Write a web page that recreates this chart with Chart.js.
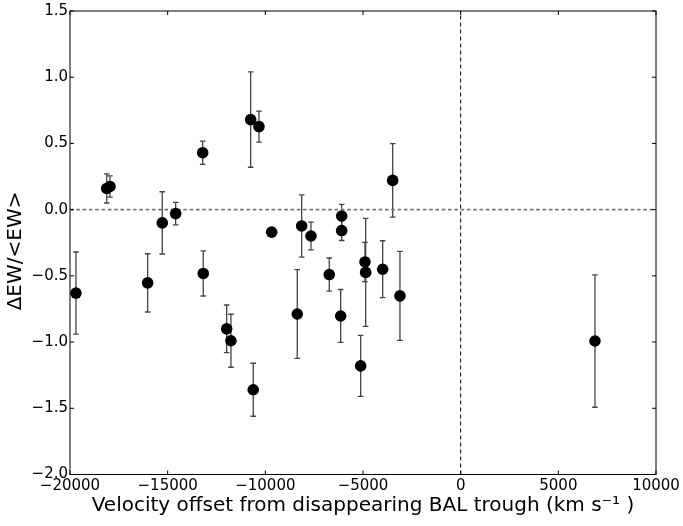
<!DOCTYPE html>
<html>
<head>
<meta charset="utf-8">
<script src="https://cdn.jsdelivr.net/npm/chart.js@4"></script>
<style>
  html, body { margin: 0; padding: 0; background: #fff; }
  canvas { display: block; }
</style>
</head>
<body>
<canvas id="ewChart" width="683" height="526"></canvas>
<script>
// Velocity offsets (km/s), fractional EW change and its 1-sigma error
const velocity = [-19695, -18120, -17955, -16025, -15277, -14591, -13208, -13178,
                  -11980, -11760, -10751, -10618, -10326, -9676, -8365, -8140,
                  -7664, -6727, -6143, -6092, -6092, -5120, -4899, -4864,
                  -3993, -3481, -3108, 6876];
const dEW = [-0.63, 0.16, 0.175, -0.553, -0.10, -0.03, 0.43, -0.482,
             -0.90, -0.99, 0.68, -1.36, 0.627, -0.17, -0.788, -0.123,
             -0.199, -0.49, -0.803, -0.048, -0.158, -1.18, -0.395, -0.474,
             -0.45, 0.221, -0.651, -0.992];
const dEWerr = [0.31, 0.11, 0.08, 0.22, 0.235, 0.085, 0.088, 0.17,
                0.18, 0.20, 0.36, 0.20, 0.117, 0.02, 0.335, 0.235,
                0.105, 0.125, 0.20, 0.088, 0.075, 0.23, 0.148, 0.408,
                0.215, 0.278, 0.336, 0.50];

const xTickValues = [-20000, -15000, -10000, -5000, 0, 5000, 10000];
const yTickValues = [-2.0, -1.5, -1.0, -0.5, 0.0, 0.5, 1.0, 1.5];

const minus = s => String(s).replace('-', '\u2212');

Chart.defaults.font.family = "'DejaVu Sans', sans-serif";
Chart.defaults.color = '#000';

// vertical error bars with caps, drawn under the markers
const errorBarPlugin = {
    id: 'errorBars',
    beforeDatasetsDraw(chart) {
        const { ctx, scales: { x, y } } = chart;
        ctx.save();
        ctx.strokeStyle = '#444';
        ctx.lineWidth = 1.3;
        velocity.forEach((v, i) => {
            const px = x.getPixelForValue(v);
            const top = y.getPixelForValue(dEW[i] + dEWerr[i]);
            const bot = y.getPixelForValue(dEW[i] - dEWerr[i]);
            ctx.beginPath();
            ctx.moveTo(px, top); ctx.lineTo(px, bot);
            ctx.moveTo(px - 2.8, top); ctx.lineTo(px + 2.8, top);
            ctx.moveTo(px - 2.8, bot); ctx.lineTo(px + 2.8, bot);
            ctx.stroke();
        });
        ctx.restore();
    }
};

// box frame + inward ticks on all four sides (matplotlib classic look)
const framePlugin = {
    id: 'frame',
    afterDraw(chart) {
        const { ctx, chartArea: a, scales: { x, y } } = chart;
        const len = 4;
        ctx.save();
        ctx.strokeStyle = '#000';
        ctx.lineWidth = 1;
        ctx.strokeRect(a.left, a.top, a.right - a.left, a.bottom - a.top);
        ctx.beginPath();
        x.ticks.forEach(t => {
            const px = x.getPixelForValue(t.value);
            ctx.moveTo(px, a.bottom); ctx.lineTo(px, a.bottom - len);
            ctx.moveTo(px, a.top); ctx.lineTo(px, a.top + len);
        });
        y.ticks.forEach(t => {
            const py = y.getPixelForValue(t.value);
            ctx.moveTo(a.left, py); ctx.lineTo(a.left + len, py);
            ctx.moveTo(a.right, py); ctx.lineTo(a.right - len, py);
        });
        ctx.stroke();
        ctx.restore();
    }
};

const data = {
    datasets: [
        { // measurements
            label: 'dEW',
            data: velocity.map((v, i) => ({ x: v, y: dEW[i] })),
            backgroundColor: '#000',
            borderWidth: 0,
            pointRadius: 5.8,
            order: 0
        },
        { // zero change
            label: 'zero',
            type: 'line',
            data: [{ x: -20000, y: 0 }, { x: 10000, y: 0 }],
            borderColor: '#777',
            borderWidth: 1.6,
            borderDash: [3.6, 2.7],
            pointRadius: 0,
            order: 2
        },
        { // trough position
            label: 'trough',
            type: 'line',
            data: [{ x: 0, y: -2 }, { x: 0, y: 1.5 }],
            borderColor: '#000',
            borderWidth: 1,
            borderDash: [4, 3],
            pointRadius: 0,
            order: 2
        }
    ]
};

const config = {
    type: 'scatter',
    data,
    options: {
        responsive: false,
        animation: false,
        layout: { padding: { top: 10, right: 27, bottom: 0, left: 0 } },
        plugins: {
            legend: { display: false },
            tooltip: { enabled: false }
        },
        scales: {
            x: {
                type: 'linear',
                min: -20000,
                max: 10000,
                afterBuildTicks: axis => { axis.ticks = xTickValues.map(v => ({ value: v })); },
                afterFit: scale => { scale.height = 51.5; },
                grid: { display: false, drawTicks: false },
                border: { display: false },
                ticks: {
                    padding: 3,
                    font: { size: 15 },
                    color: '#000',
                    maxRotation: 0,
                    callback: v => minus(v)
                },
                title: {
                    display: true,
                    text: 'Velocity offset from disappearing BAL trough (km s\u207B\u00B9 )',
                    font: { size: 20 },
                    color: '#000',
                    padding: { top: 0, bottom: 8 }
                }
            },
            y: {
                min: -2,
                max: 1.5,
                afterBuildTicks: axis => { axis.ticks = yTickValues.map(v => ({ value: v })); },
                afterFit: scale => { scale.width = 70; },
                grid: { display: false, drawTicks: false },
                border: { display: false },
                ticks: {
                    padding: 2,
                    font: { size: 15 },
                    color: '#000',
                    callback: v => minus(Number(v).toFixed(1))
                },
                title: {
                    display: true,
                    // trailing spaces nudge the rotated label a little down, as in the original
                    text: '\u0394EW/<EW>\u2002 ',
                    font: { size: 20 },
                    color: '#000',
                    padding: { top: 4, bottom: 0 }
                }
            }
        }
    },
    plugins: [errorBarPlugin, framePlugin]
};

const ewChart = new Chart(document.getElementById('ewChart'), config);
</script>
</body>
</html>
